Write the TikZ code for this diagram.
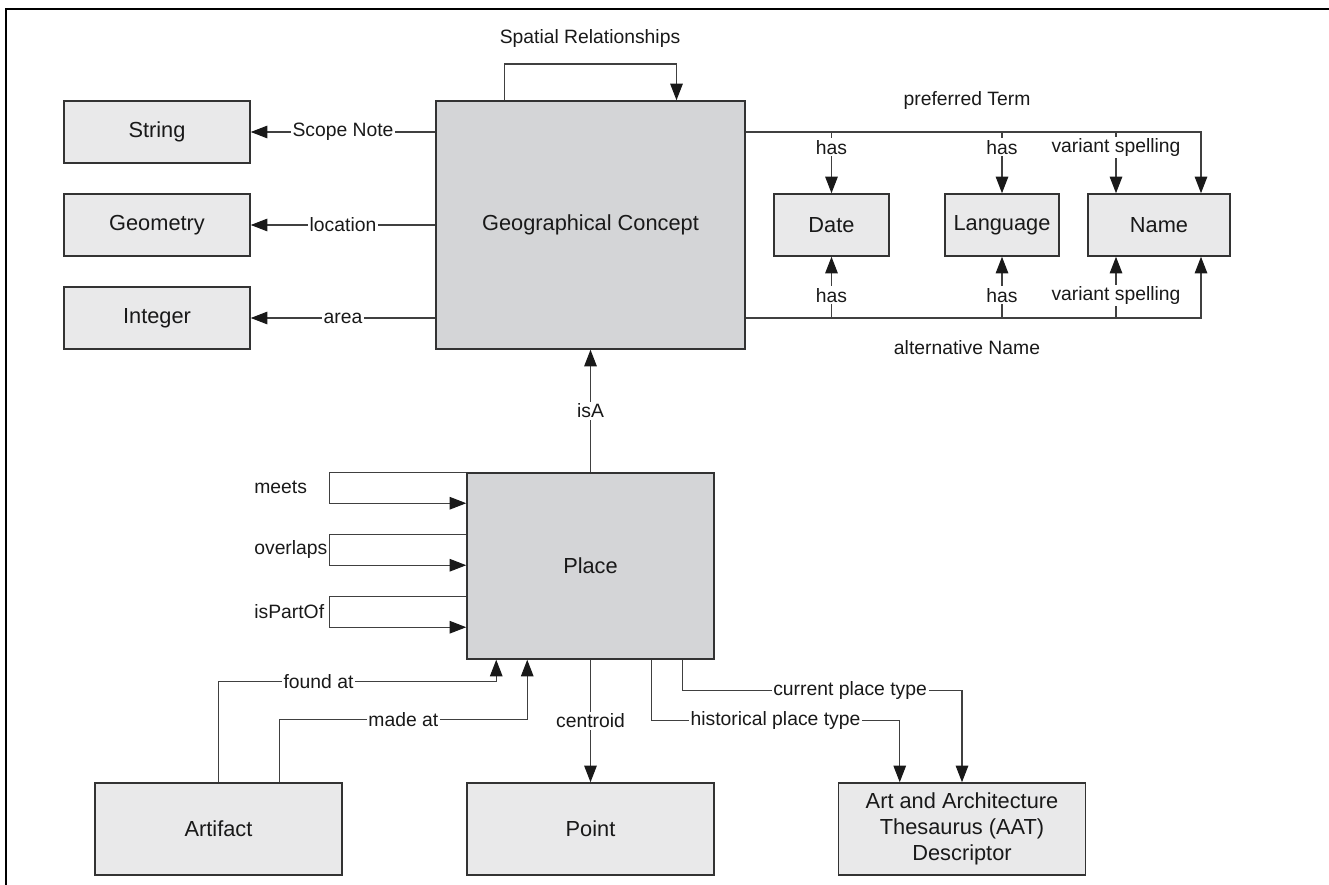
\documentclass[tikz,border=0pt]{standalone}
\usepackage{fontspec}
\setmainfont{Liberation Sans}
\usetikzlibrary{arrows.meta,calc}

\definecolor{conceptgray}{RGB}{212,213,215}
\definecolor{typegray}{RGB}{233,233,234}

\begin{document}
\begin{tikzpicture}[x=0.02cm, y=-0.02cm,
  >={Triangle[length=0.33cm,width=0.25cm,color=black!90]},
  conn/.style={->, draw=black!75, line width=0.6pt},
  bigbox/.style={draw=black!80, line width=0.9pt, fill=conceptgray,
    text=black!90, font=\fontsize{12.4}{15}\selectfont},
  typebox/.style={bigbox, fill=typegray, minimum height=1.24cm},
  lbl/.style={fill=white, inner sep=1pt, text=black!90,
    font=\fontsize{11}{13}\selectfont}]

\useasboundingbox (0,0) rectangle (1329,885);

%--- Rahmen ---
\draw[line width=1.4pt] (6,885) -- (6,9) -- (1329,9);

%--- Klassen ---
\node[bigbox, minimum width=6.18cm, minimum height=4.96cm] (geo) at (590.5,225) {Geographical Concept};
\node[bigbox, minimum width=4.94cm, minimum height=3.72cm] (place) at (590.5,566) {Place};

\node[typebox, minimum width=3.72cm] (string)   at (157,132) {String};
\node[typebox, minimum width=3.72cm] (geometry) at (157,225) {Geometry};
\node[typebox, minimum width=3.72cm] (integer)  at (157,318) {Integer};

\node[typebox, minimum width=2.30cm] (date)     at (831.5,225) {Date};
\node[typebox, minimum width=2.28cm] (language) at (1002,225) {Language};
\node[typebox, minimum width=2.84cm] (name)     at (1159,225) {Name};

\node[typebox, minimum width=4.94cm, minimum height=1.84cm] (artifact) at (218.5,829) {Artifact};
\node[typebox, minimum width=4.94cm, minimum height=1.84cm] (point)    at (590.5,829) {Point};
\node[typebox, minimum width=4.94cm, minimum height=1.84cm, align=center] (aat) at (962,829)
  {Art and Architecture\\Thesaurus (AAT)\\Descriptor};

%--- Attribute links ---
\draw[conn] (geo.west |- string)  -- node[lbl]{Scope Note} (string.east);
\draw[conn] (geo.west)            -- node[lbl]{location}   (geometry.east);
\draw[conn] (geo.west |- integer) -- node[lbl]{area}       (integer.east);

%--- Spatial Relationships ---
\coordinate (srtop) at (590,64);
\draw[conn] ($(geo.north)+(-86,0)$) |- (srtop) -| ($(geo.north)+(86,0)$);
\node[lbl, fill=none] (srlabel) at (590,39) {Spatial Relationships};

%--- Namen ---
\coordinate (vsx) at (1116,0);
\coordinate (nmx) at (1201,0);
\draw[conn] (geo.east |- string)  -| (nmx |- name.north);
\draw[conn] (geo.east |- integer) -| (nmx |- name.south);
\node[lbl, fill=none] (prefterm) at (967,101) {preferred Term};
\node[lbl, fill=none] (altname)  at (967,348) {alternative Name};

\draw[conn] (date.north |- string)     -- node[lbl,pos=0.25]{has} (date.north);
\draw[conn] (language.north |- string) -- node[lbl,pos=0.25]{has} (language.north);
\draw[conn] (vsx |- string) -- node[lbl,pos=0.25]{variant spelling} (vsx |- name.north);
\draw[conn] (date.south |- integer)     -- node[lbl,pos=0.37]{has} (date.south);
\draw[conn] (language.south |- integer) -- node[lbl,pos=0.37]{has} (language.south);
\draw[conn] (vsx |- integer) -- node[lbl,pos=0.37]{variant spelling} (vsx |- name.south);

%--- isA ---
\draw[conn] (place.north) -- node[lbl]{isA} (geo.south);

%--- Topologie ---
\foreach \off/\lab in {0/meets, 62/overlaps, 124/isPartOf}{
  \draw[conn] ($(place.north west)+(0,\off)$) -| ($(place.north west)+(-137,\off+31)$)
    -- ($(place.north west)+(0,\off+31)$);
  \node[lbl, fill=none, anchor=west] (\lab) at ($(place.north west)+(-214,\off+15)$) {\lab};
}

%--- Artefakt ---
\draw[conn] (artifact.north) -- ++(0,-101)
  -| node[lbl,pos=0.18]{found at} ($(place.south west)+(30,0)$);
\draw[conn] ($(artifact.north)+(61,0)$) -- ++(0,-63)
  -| node[lbl,pos=0.25]{made at} ($(place.south west)+(61,0)$);

%--- Punkt und Typ ---
\draw[conn] (place.south) -- node[lbl]{centroid} (point.north);
\draw[conn] ($(place.south west)+(185,0)$) -- ++(0,61)
  -| node[lbl,pos=0.25]{historical place type} ($(aat.north west)+(62,0)$);
\draw[conn] ($(place.south west)+(216,0)$) -- ++(0,31)
  -| node[lbl,pos=0.30]{current place type} (aat.north);

\end{tikzpicture}
\end{document}
